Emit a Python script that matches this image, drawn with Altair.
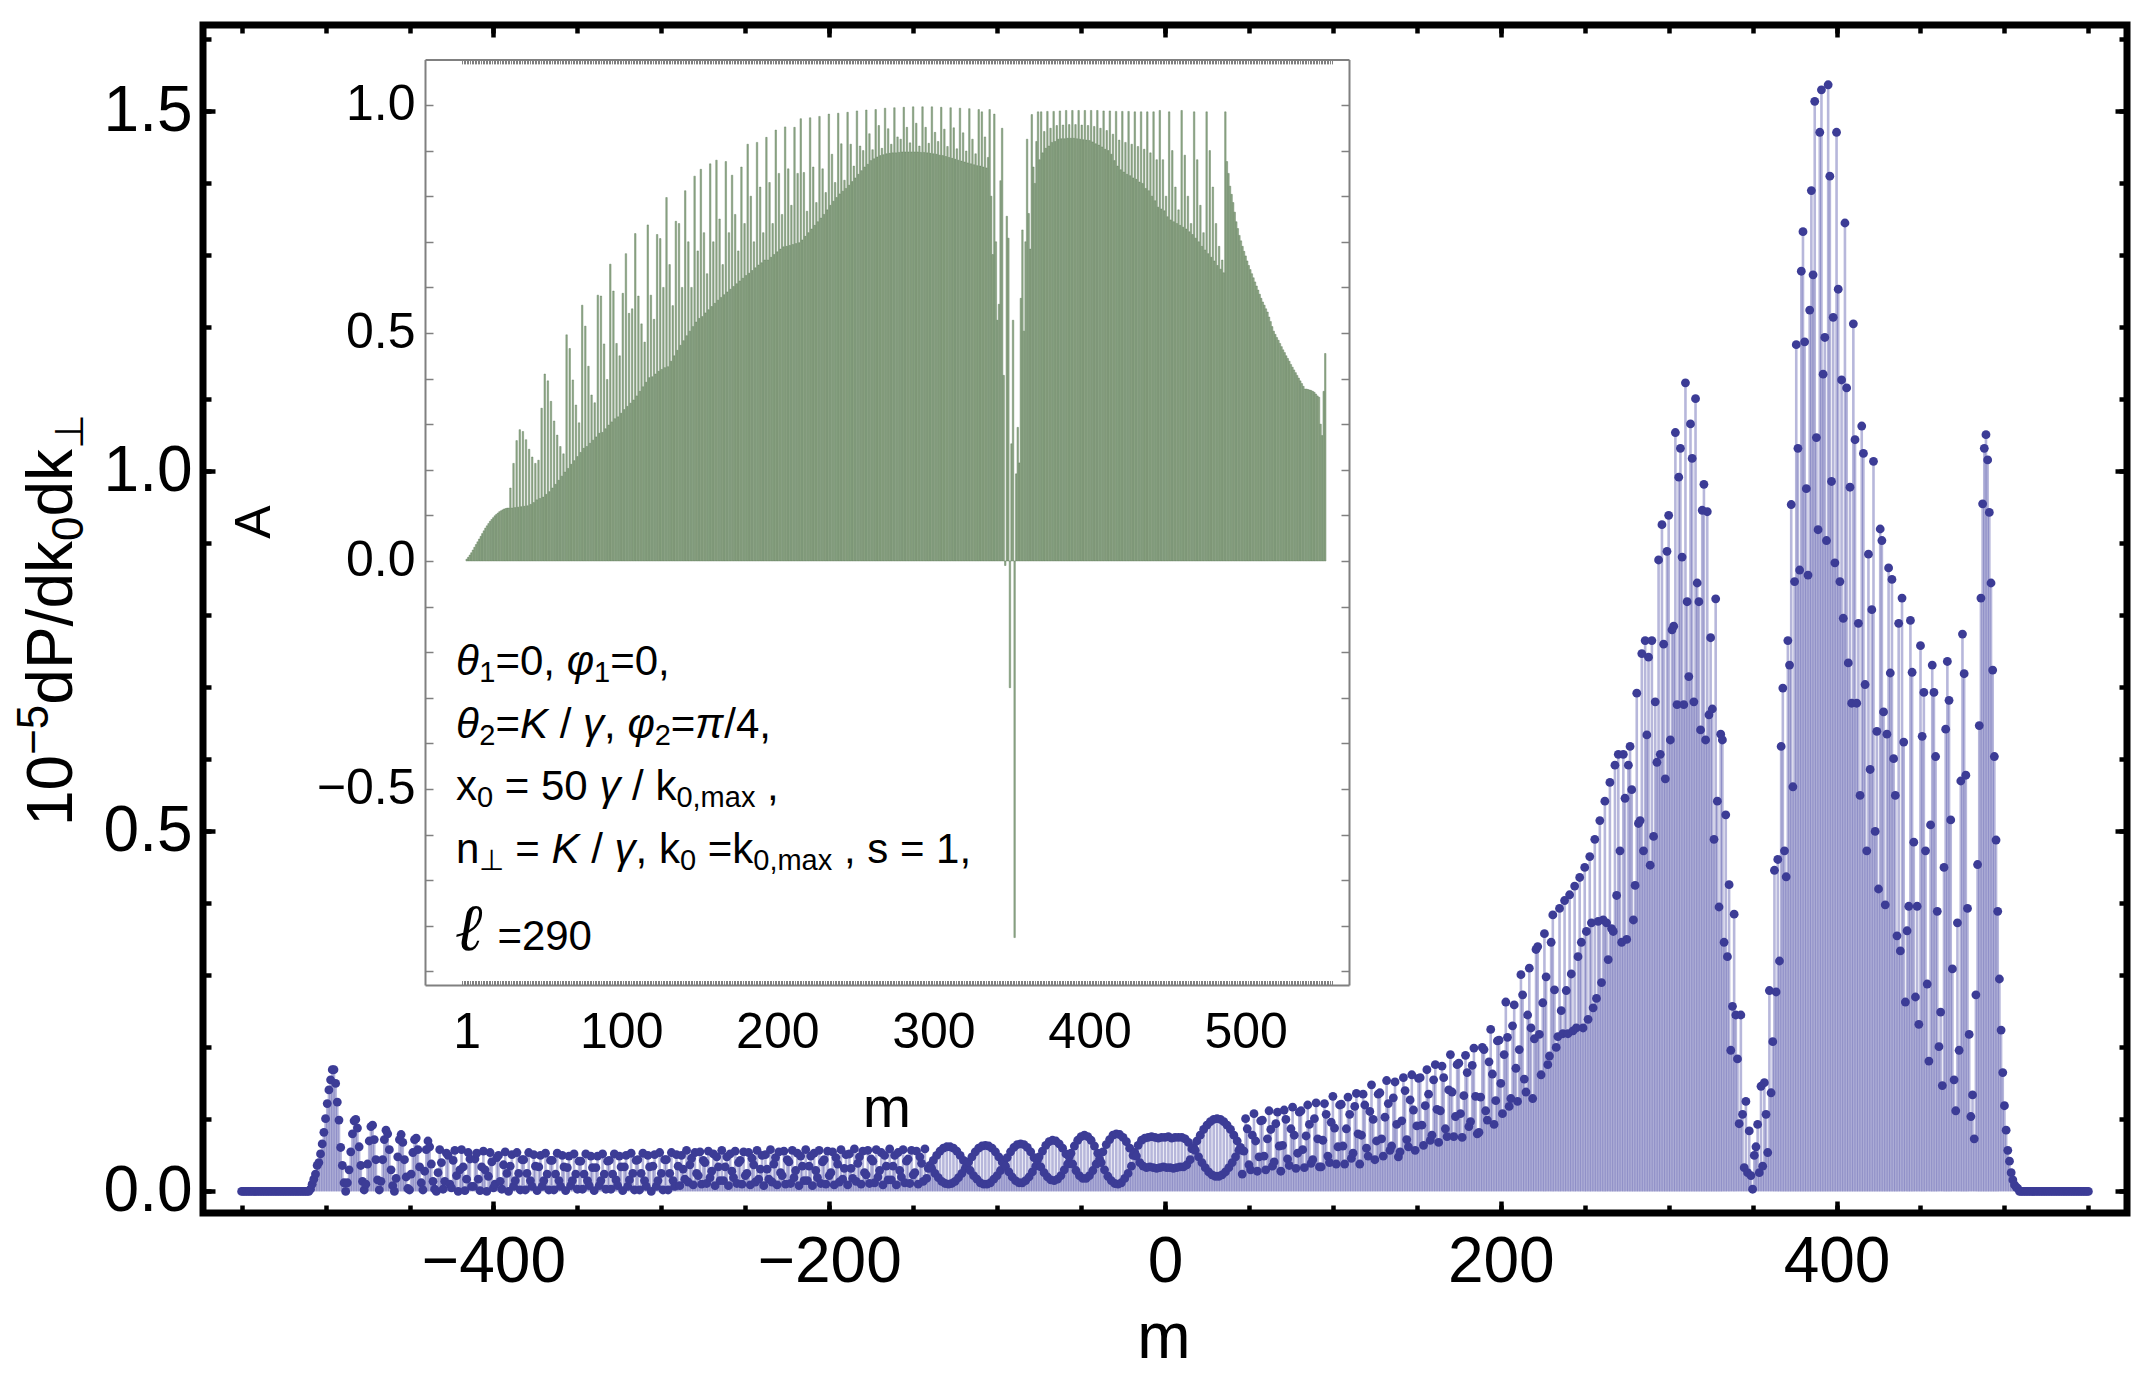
import altair as alt
import pandas as pd

FONT = "Liberation Sans"

# ---------------- main panel: 10^-5 dP/dk0dk_perp at integer m (values x 1e-3) ----------------
MAIN_STARTS = [-550, -509, -487, -434, -391, -289, -140, 46, 235, 378, 509]

zeros_left = [0,0,0,0,0,0,0,0,0,0, 0,0,0,0,0,0,0,0,0,0, 0,0,0,0,0,0,0,0,0,0, 0,0,0,0,0,0,0,0,0,0, 0]
peak_left = [3,10,17,24,36,40,52,66,82,101,122,141,155,169,169,150,124,99,61,36,12,0]
decay_left = [12,30,55,80,98,100,88,62,36,14,2, 10,38,70,90,92,72,44,16,2, 14,44,72,85,80,58,30,8,0,
              18,48,72,79,68,44,20,4,2, 24,54,72,74,58,34,12,2, 28,58,70,62,38,14,3]
band_a = [0,26,58,40,3,14,53,50,10,5,43,57,22,0,30,58,34,1,17,54,45,7,7,45,53,17,1,34,56,30,
          0,21,54,41,5,10,47,50,14,3,37,55,25]
band_b = [0,35,51,7,15,54,25,2,44,44,2,25,54,15,7,51,35,
          1,34,50,7,15,53,24,2,43,43,2,24,53,15,7,50,34,
          1,33,49,8,15,52,24,3,42,42,3,24,52,15,8,49,33,
          1,33,49,8,15,52,24,3,42,43,3,24,52,16,8,49,34,
          1,34,50,7,16,53,25,2,43,44,2,25,53,15,7,50,34,
          0,35,51,7,15,54,25,2,44,44,2,25,54,15,7,51,35]
band_c = [8,50,31,17,57,13,37,46,9,54,25,22,55,10,43,40,11,56,19,28,52,8,48,34,15,57,15,34,48,8,
          52,28,19,56,11,40,43,10,55,22,25,54,9,46,37,13,57,17,31,50,
          8,51,31,17,58,13,38,47,9,55,26,22,56,10,44,41,11,57,19,29,53,8,49,35,15,58,15,35,49,8,
          53,29,19,57,11,41,44,10,56,22,26,55,9,47,38,13,58,17,32,51,
          9,52,32,18,59,14,39,48,10,56,26,23,57,11,45,42,12,58,20,29,54,9,50,35,16,59,16,35,50,9,
          54,29,20,58,12,42,45,11,57,23,26,56,10,48,39,14,59,18,32]
lenses = [36,32,43,25,50,19,56,14,60,11,62,10,62,11,60,14,56,19,50,25,43,32,
          37,41,29,48,22,55,17,60,12,63,10,64,10,63,12,60,17,55,22,48,29,41,
          39,35,47,27,55,20,61,15,65,12,66,12,65,15,61,20,55,27,47,35,
          43,48,34,56,26,64,20,69,16,71,15,70,17,66,22,60,30,52,38,
          48,53,38,63,29,71,22,76,18,78,18,76,22,71,29,63,38,53,
          45,40,55,30,65,21,72,15,78,11,80,10,79,12,75,18,69,25,60,35,50,
          54,49,64,40,71,35,74,33,75,34,76,33,75,32,74,33,75,34,75,33,76,33,74,32,75,33,75,34,75,
          34,73,37,68,44,59,
          61,57,70,48,78,40,86,33,92,27,97,23,100,21,101,21,100,23,97,27,92,33,86,40,78,48,70,57,61]
rise = [24,56,101,87,37,30,78,108,70,28,48,98,99,49,
        30,73,112,86,35,41,94,110,63,28, 64,113,100,45,36,87,117,78,32,53,
        110,112,58,33,77,120,93,39,44,101, 123,73,34,34,71,122,107,49,40,96,
        132,88,38,62,120,121,63,38,87,131, 107,46,53,118,136,80,38,78,135,120,
        60,49,111,148,100,44,70,135,137,73, 49,103,154,122,57,63,130,152,93,48,
        55,98,158,140,72,62,127,162,113,57, 91,157,158,92,64,119,169,135,71,78,
        155,176,114,68,112,174,158,87,76,141, 190,138,76,104,176,178,108,75,133,189,
        165,90,97,175,199,132,80,82,131,200, 197,112,99,180,225,163,93,126,209,210,
        150,108,190,263,214,118,129,230,259,171, 125,197,301,273,156,138,245,310,227,129,
        212,336,340,218,162,262,358,298,176,188, 346,384,280,200,215]
peak_mid = [393,251,219,404,279,219,412,302,223,424, 227,326,436,346,227,450,361,239,465,373,
            255,489,268,375,515,290,377,542,373,322, 568,365,361,592,411,607,473,346,607,546,
            350,592,618,558,377,425,692,511,515,747, 473,765,634,742,453,765,493,680,596,877,
            607,926,760,573,889,939,627,780,785,1054, 676,992,1032,881,676,1123,819,715,1066,1018,
            680,1101,845,819,641,946,982,627,944,662, 769,670,489,823,542,395,635,627,346,523,
            326,426,196,257,385,245,184,94,245,107, 33,125,26,84,22,3,50,62,93,26,
            146,35,151,107,54,279,137,208,446,277, 461,320,618,699,473,437,765,731,954,562,
            847,1176,1032]
peak_right = [863,1278,1333,1180,976,856,1224,1390,1273,1514, 1047,919,1471,1530,1135,1186,904,1537,1410,986,
              1214,873,1471,1253,847,1127,796,1345,1116,734, 978,678,1205,1044,678,789,550,1063,1025,704,
              473,885,586,808,1014,500,639,420,920,904, 666,398,635,866,720,850,601,550,355,789,
              334,824,624,263,362,396,793,721,485,270, 396,232,758,632,693,473,288,181,509,731,
              693,604,389,201,249,147,450,642,736,682, 516,309,155,112,373,196,570,774,719,578,
              393,218,104,134,73,273,454,647,824,955, 1032,1051,1016,943,845,724,604,488,389,295,
              224,165,119,85,57,42,26,16,9,6,4]
zeros_right = [0,0,0,0,0,0,0,0,0,0, 0,0,0,0,0,0,0,0,0,0, 0,0,0,0,0,0,0,0,0,0, 0,0,0,0,0,0,0,0,0,0, 0,0]
MAIN_SEGS = [zeros_left, peak_left, decay_left, band_a, band_b, band_c, lenses, rise,
             peak_mid, peak_right, zeros_right]

# ---------------- inset: A versus m = 1..551 (values x 1e-3) ----------------
INSET_STARTS = [1, 29, 50, 215, 330, 368, 489]
ins_rise = [4,8,13,18,24,30,36,42,48,54,60,66,72,77,82,87,91,95,99,102,105,108,110,112,114,115,116,116]
ins_hump = [160,116,214,117,264,118,288,119,284,120,266,121,245,124,228,128,214,134,221,137,335]
ins_saw = [140,410,146,395,152,350,160,307,168,276,177,251,186,235,195,496,203,466,212,397,
           220,342,229,303,238,561,247,515,251,427,258,364,265,347,272,583,280,581,282,476,
           290,398,298,651,305,592,312,477,316,450,324,587,332,674,339,543,346,553,353,718,
           362,581,372,520,382,480,392,737,402,583,404,530,410,716,416,707,420,600,424,797,
           426,650,438,560,450,745,462,740,473,600,483,812,494,700,504,600,514,844,524,680,
           532,859,536,720,544,630,551,871,558,700,565,879,572,750,578,650,584,876,590,720,
           596,846,602,760,608,680,614,864,620,740,626,914,631,800,637,700,643,918,649,820,
           654,720,660,929,660,830,666,740,672,945,678,850,684,760,689,952,690,860,692,780,
           694,951,696,850,698]
ins_top = [970,704,852,712,767,720, 972,728,864,736,786,744, 975,752,860,760,808,770,
           980,780,892,789,830,797, 982,805,915,811,835,817, 984,824,914,832,866,840,
           987,848,910,856,900,864, 989,870,937,878,902,882, 990,886,955,889,905,891,
           993,893,948,894,914,895, 994,895,930,896,925,897, 995,897,951,897,917,897,
           996,897,960,897,910,896, 996,896,951,895,916,894, 996,893,940,892,920,890,
           995,889,947,887,909,885, 994,883,950,881,904,879, 993,877,939,875,899,873,
           992,871,925,869,893,867, 990]
ins_dip = [866,985,864,930,862,885,990,800,672,980,700,528,563,834,949,407,-10,756,708,-278,
           257,528,-826,191,293,215,576,726,504,700,925,762,684,979,864,828,920,985]
ins_right = [880, 985,895,942,905, 986,910,949,918, 986,920,955,925, 987,926,956,926,
             988,927,957,927, 988,927,957,926, 988,925,956,924, 988,923,955,922,
             988,919,953,915, 988,912,949,908, 987,903,944,900, 987,892,936,878,
             986,866,923,858, 986,853,918,848, 986,845,914,840, 985,837,909,831,
             985,828,903,817, 985,812,895,800, 985,790,880,776,
             988,772,880,768,800,755, 985,748,900,744,820,740,770,736,
             988,732,890,728,800,722,740,716, 985,708,880,700,780,690,720,682,
             985,674,900,666,820,658,740,648,690,640,660,632, 985,876]
ins_tail = [850,822,804,786,765,744,729,714,702,690, 679,669,658,648,639,630,621,612,603,594,
            585,576,568,561,553,546,535,525,514,504, 497,490,484,477,470,463,457,450,444,438,
            431,425,419,413,407,401,395,389,383,377, 377,376,375,374,372,370,366,362,359,
            300,275,372,455]
INSET_SEGS = [ins_rise, ins_hump, ins_saw, ins_top, ins_dip, ins_right, ins_tail]

MAIN_XTICKS = [-400, -200, 0, 200, 400]
MAIN_YTICKS = [0.0, 0.5, 1.0, 1.5]
INSET_XTICKS = [1, 100, 200, 300, 400, 500]
INSET_YTICKS = [-0.5, 0.0, 0.5, 1.0]

main_rows = []
for st, seg in zip(MAIN_STARTS, MAIN_SEGS):
    for k, val in enumerate(seg):
        main_rows.append({"m": st + k, "v": val / 1000.0})
main_df = pd.DataFrame(main_rows)

ins_rows = []
for st, seg in zip(INSET_STARTS, INSET_SEGS):
    for k, val in enumerate(seg):
        ins_rows.append({"i": st + k, "a": val / 1000.0})
inset_df = pd.DataFrame(ins_rows)

# ---------------- layout (pixels inside the plot area) ----------------
W, H = 1924, 1188
XS = alt.Scale(domain=[-573, 573], nice=False, zero=False)
YS = alt.Scale(domain=[-0.03, 1.62], nice=False, zero=False)
IL, IR, IT, IB = 222, 1146, 34.4, 960
IXS = alt.Scale(domain=[-22.5, 563], range=[IL, IR], nice=False, zero=False)
IYS = alt.Scale(domain=[-0.93, 1.10], range=[IB, IT], nice=False, zero=False)
GRAY = "#808080"


def axis(orient, values, offset, tick=0, labels=False, domain=False, fmt=None,
         tcolor="black", twidth=4.5, lsize=64, lpad=0):
    kw = dict(orient=orient, values=values, offset=offset, grid=False, title=None,
              domain=domain, labels=labels, ticks=tick > 0)
    if tick > 0:
        kw.update(tickSize=tick, tickColor=tcolor, tickWidth=twidth)
    if domain:
        kw.update(domainColor=GRAY, domainWidth=2)
    if labels:
        kw.update(labelFont=FONT, labelFontSize=lsize, labelColor="black", labelPadding=lpad,
                  labelFlush=False, labelOverlap=False)
    if fmt:
        kw["format"] = fmt
    return alt.Axis(**kw)


minor_x = list(range(-550, 551, 50))
minor_y = [k / 10 for k in range(0, 17)]
ins_hatch = list(range(1, 553))
ins_minor_y = [round(k / 10, 1) for k in range(-9, 11)]
dummy = pd.DataFrame({"m": [0.0], "v": [0.0], "i": [100.0], "a": [0.0]})

stems = alt.Chart(main_df).mark_rule(color="#5454aa", opacity=0.42, strokeWidth=2.6).encode(
    x=alt.X("m:Q", scale=XS, axis=axis("bottom", MAIN_XTICKS, -12, 12, True, fmt="d", lpad=17)),
    y=alt.Y("v:Q", scale=YS, axis=axis("left", MAIN_YTICKS, -12, 12, True, fmt=".1f", lpad=11)),
    y2=alt.datum(0),
)
points = alt.Chart(main_df).mark_circle(size=78, color="#3c3c96", opacity=1).encode(
    x=alt.X("m:Q", scale=XS, axis=None),
    y=alt.Y("v:Q", scale=YS, axis=None),
)
ax_minor_bl = alt.Chart(dummy).mark_point(opacity=0).encode(
    x=alt.X("m:Q", scale=XS, axis=axis("bottom", minor_x, -8, 8)),
    y=alt.Y("v:Q", scale=YS, axis=axis("left", minor_y, -8, 8)),
)
ax_major_tr = alt.Chart(dummy).mark_point(opacity=0).encode(
    x=alt.X("m:Q", scale=XS, axis=axis("top", MAIN_XTICKS, -12, 12)),
    y=alt.Y("v:Q", scale=YS, axis=axis("right", MAIN_YTICKS, -12, 12)),
)
ax_minor_tr = alt.Chart(dummy).mark_point(opacity=0).encode(
    x=alt.X("m:Q", scale=XS, axis=axis("top", minor_x, -8, 8)),
    y=alt.Y("v:Q", scale=YS, axis=axis("right", minor_y, -8, 8)),
)

bars = alt.Chart(inset_df).mark_bar(size=1.5, fill="#93ab8b", stroke="#557450", strokeWidth=0.4).encode(
    x=alt.X("i:Q", scale=IXS, axis=axis("bottom", INSET_XTICKS, IB - H, 0, True, True, lsize=50, lpad=22)),
    y=alt.Y("a:Q", scale=IYS, axis=axis("left", INSET_YTICKS, -IL, 0, True, True, fmt=".1f", lsize=50, lpad=10)),
    y2=alt.datum(0),
)
ins_ticks_bl = alt.Chart(dummy).mark_point(opacity=0).encode(
    x=alt.X("i:Q", scale=IXS, axis=axis("bottom", ins_hatch, IB - H - 4.5, 4.5, tcolor=GRAY, twidth=1)),
    y=alt.Y("a:Q", scale=IYS, axis=axis("left", ins_minor_y, -(IL + 8), 8, tcolor=GRAY, twidth=1.5)),
)
ins_frame_tr = alt.Chart(dummy).mark_point(opacity=0).encode(
    x=alt.X("i:Q", scale=IXS, axis=axis("top", INSET_XTICKS, -IT, 0, domain=True)),
    y=alt.Y("a:Q", scale=IYS, axis=axis("right", INSET_YTICKS, IR - W, 0, domain=True)),
)
ins_ticks_tr = alt.Chart(dummy).mark_point(opacity=0).encode(
    x=alt.X("i:Q", scale=IXS, axis=axis("top", ins_hatch, -(IT + 4.5), 4.5, tcolor=GRAY, twidth=1)),
    y=alt.Y("a:Q", scale=IYS, axis=axis("right", ins_minor_y, IR - W - 8, 8, tcolor=GRAY, twidth=1.5)),
)

# ---------------- text ----------------
CW = {" ": 0.278, "=": 0.584, ",": 0.278, "/": 0.278, "\u03b8": 0.556, "\u03c6": 0.65, "\u03b3": 0.5,
      "\u03c0": 0.69, "K": 0.667, "x": 0.5, "k": 0.5, "n": 0.556, "s": 0.5, "m": 0.833, "a": 0.556,
      "\u22a5": 0.838, "\u2113": 0.45, "\u2212": 0.584, "d": 0.556, "P": 0.667}


def tw(t, size):
    return sum(CW.get(c, 0.556) for c in t) * size


STY = {"n": (42, 0), "it": (42, 0), "sub": (29, 7), "ell": (66, 0)}
LINES = [
    [("\u03b8", "it"), ("1", "sub"), ("=0, ", "n"), ("\u03c6", "it"), ("1", "sub"), ("=0,", "n")],
    [("\u03b8", "it"), ("2", "sub"), ("=", "n"), ("K", "it"), (" / ", "n"), ("\u03b3", "it"), (", ", "n"),
     ("\u03c6", "it"), ("2", "sub"), ("=", "n"), ("\u03c0", "it"), ("/4,", "n")],
    [("x", "n"), ("0", "sub"), (" = 50 ", "n"), ("\u03b3", "it"), (" / k", "n"), ("0,max", "sub"), (" ,", "n")],
    [("n", "n"), ("\u22a5", "sub"), (" = ", "n"), ("K", "it"), (" / ", "n"), ("\u03b3", "it"), (", k", "n"),
     ("0", "sub"), (" =k", "n"), ("0,max", "sub"), (" , s = 1,", "n")],
    [("\u2113", "ell"), (" =290", "n")],
]
LINE_X0 = 253
LINE_Y = [650, 713, 775, 838, 925]

trows = []
for segs, yb in zip(LINES, LINE_Y):
    x = LINE_X0
    for t, st in segs:
        size, dy = STY[st]
        lead = len(t) - len(t.lstrip(" "))
        core = t.strip(" ")
        if core:
            trows.append({"x": x + tw(" " * lead, size), "y": yb + dy, "t": core, "s": size, "st": st})
        x += tw(t, size)
tdf = pd.DataFrame(trows)

# rotated main y title: 10^-5 dP/dk_0 dk_perp
YT = [("10", 64, 0), ("\u22125", 44, -24), ("dP/dk", 64, 0), ("0", 44, 11), ("dk", 64, 0), ("\u22a5", 40, 11)]
yrows = []
ypos = 801
for t, s, sh in YT:
    yrows.append({"x": -131 + sh, "y": ypos, "t": t, "s": s})
    ypos -= tw(t, s)
ydf = pd.DataFrame(yrows)

titles_df = pd.DataFrame({"x": [961, 684], "y": [1333, 1102], "t": ["m", "m"], "s": [64, 58]})
a_df = pd.DataFrame({"x": [52], "y": [497], "t": ["A"], "s": [50]})


def text_layer(df, **mk):
    return alt.Chart(df).mark_text(color="black", **mk).encode(
        x=alt.X("x:Q", scale=None, axis=None),
        y=alt.Y("y:Q", scale=None, axis=None),
        text="t:N",
        size=alt.Size("s:Q", scale=None, legend=None),
    )


t_norm = text_layer(tdf[tdf.st.isin(["n", "sub"])], font=FONT, align="left", baseline="alphabetic")
t_it = text_layer(tdf[tdf.st == "it"], font=FONT, fontStyle="italic", align="left", baseline="alphabetic")
t_ell = text_layer(tdf[tdf.st == "ell"], font="DejaVu Serif", fontStyle="italic", fontWeight="bold",
                   align="left", baseline="alphabetic")
t_ytitle = text_layer(ydf, font=FONT, angle=270, align="left", baseline="alphabetic")
t_titles = text_layer(titles_df, font=FONT, align="center", baseline="alphabetic")
t_a = text_layer(a_df, font=FONT, angle=270, align="center", baseline="middle")

chart = alt.layer(
    stems, points, ax_minor_bl, ax_major_tr, ax_minor_tr,
    bars, ins_ticks_bl, ins_frame_tr, ins_ticks_tr,
    t_norm, t_it, t_ell, t_ytitle, t_titles, t_a,
).resolve_scale(x="independent", y="independent").properties(
    width=W, height=H,
    padding={"left": 195, "top": 17, "right": 7, "bottom": 166},
    autosize=alt.AutoSizeParams(type="none"),
    background="white",
).configure_view(stroke="black", strokeWidth=7)

chart.save("out.html", embed_options={"renderer": "svg", "actions": False})
